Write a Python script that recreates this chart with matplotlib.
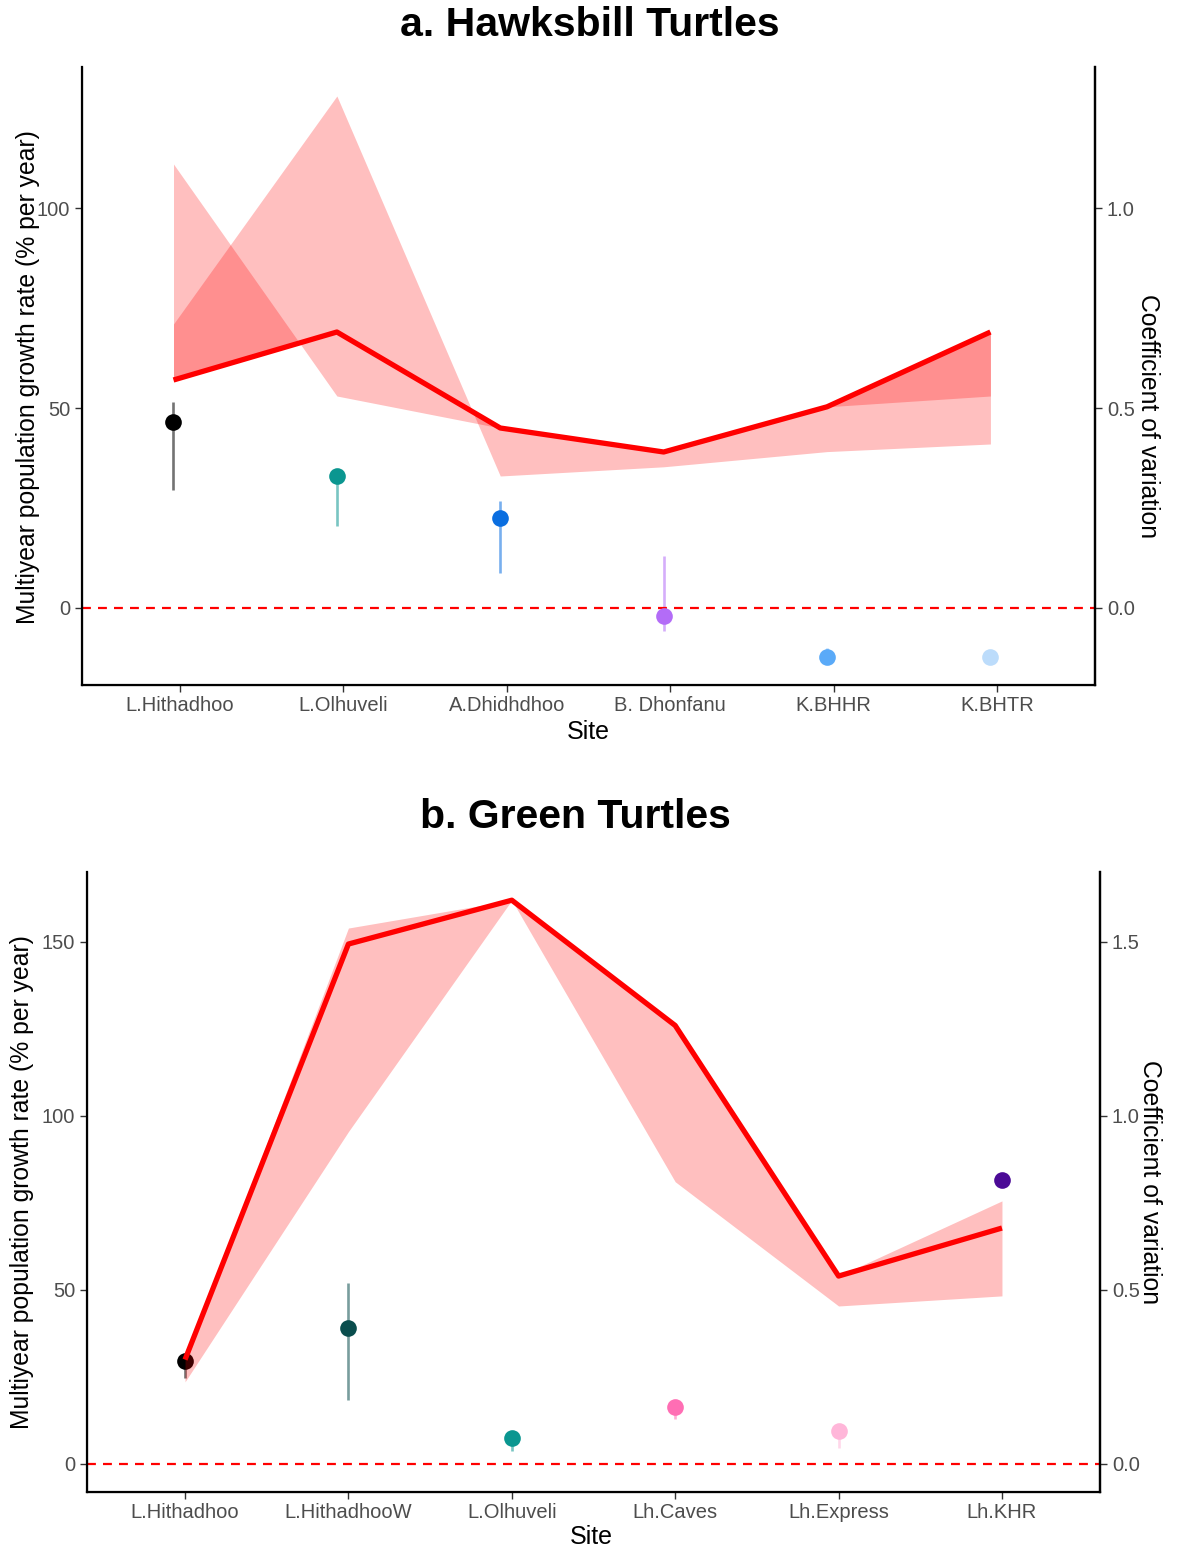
import matplotlib
matplotlib.use("Agg")
import matplotlib.pyplot as plt
import numpy as np

plt.rcParams['font.family'] = ['Liberation Sans', 'DejaVu Sans']

# ---------------- data: a. Hawksbill ----------------
sites_a = ["L.Hithadhoo", "L.Olhuveli", "A.Dhidhdhoo", "B. Dhonfanu", "K.BHHR", "K.BHTR"]
growth_a = [46.5, 33.0, 22.5, -2.0, -12.3, -12.3]
growth_lo_a = [29.5, 20.5, 8.7, -5.8, -12.8, -12.3]
growth_hi_a = [51.5, 34.7, 26.7, 13.0, -10.0, -12.3]
colors_a = ["#000000", "#0b9690", "#0a6ee0", "#b36cf7", "#5aaaf8", "#bcdcfb"]
cv_a = [0.57, 0.69, 0.45, 0.39, 0.503, 0.69]
cv_band1_a = [0.71, 1.28, 0.33, 0.353, 0.391, 0.41]
cv_band2_a = [1.11, 0.53, 0.45, 0.39, 0.503, 0.53]

# ---------------- data: b. Green ----------------
sites_b = ["L.Hithadhoo", "L.HithadhooW", "L.Olhuveli", "Lh.Caves", "Lh.Express", "Lh.KHR"]
growth_b = [29.6, 39.0, 7.5, 16.5, 9.5, 81.6]
growth_lo_b = [24.7, 18.5, 3.6, 12.8, 4.5, 81.6]
growth_hi_b = [31.3, 52.0, 8.5, 17.0, 10.0, 81.6]
colors_b = ["#000000", "#0a4d4d", "#0a9690", "#ff6eb4", "#ffb6d9", "#4b0a96"]
cv_b = [0.30, 1.494, 1.62, 1.26, 0.54, 0.678]
cv_band1_b = [0.236, 0.955, 1.62, 0.811, 0.454, 0.483]
cv_band2_b = [0.30, 1.54, 1.62, 1.26, 0.54, 0.756]

W, H = 1181, 1550
fig = plt.figure(figsize=(W / 100, H / 100), dpi=100)

TICK_GREY = "#4d4d4d"


def panel(rect, sites, growth, glo, ghi, colors, cv, b1, b2, ylim, cv_ticks, shift):
    ax = fig.add_axes(rect)
    n = len(sites)
    xt = np.arange(n)
    xd = xt + shift
    ax.set_xlim(-0.6, n - 1 + 0.6)
    ax.set_ylim(*ylim)
    # growth points with error bars
    for i in range(n):
        ax.plot([xd[i], xd[i]], [glo[i], ghi[i]], color=colors[i], alpha=0.55,
                lw=1.9, solid_capstyle='butt', zorder=2)
        ax.plot(xd[i], growth[i], 'o', color=colors[i], ms=12, mec='none', zorder=3)
    ax.axhline(0, color="#ff0000", ls=(0, (4, 3.2)), lw=1.6, zorder=2)
    # CV ribbons and line (scaled x100 to share the left axis)
    cvv = np.array(cv) * 100
    ax.fill_between(xd, cvv, np.array(b1) * 100, color="#ff0000", alpha=0.25, lw=0, zorder=4)
    ax.fill_between(xd, cvv, np.array(b2) * 100, color="#ff0000", alpha=0.25, lw=0, zorder=4)
    ax.plot(xd, cvv, color="#ff0000", lw=3.8, zorder=5, solid_capstyle='butt')

    ax.set_xticks(xt)
    ax.set_xticklabels(sites)
    ax.set_yticks([0, 50, 100, 150] if ylim[1] > 150 else [0, 50, 100])
    ax.tick_params(axis='both', colors="#333333", labelcolor=TICK_GREY, labelsize=14.5,
                   length=5, width=1.0, direction='out')
    ax.tick_params(axis='x', pad=3)
    ax.spines['top'].set_visible(False)
    for s in ['left', 'bottom', 'right']:
        ax.spines[s].set_linewidth(1.6)
        ax.spines[s].set_color("black")

    ax2 = ax.twinx()
    ax2.set_ylim(ylim[0] / 100, ylim[1] / 100)
    ax2.set_yticks(cv_ticks)
    ax2.set_yticklabels([f"{v:.1f}" for v in cv_ticks])
    ax2.tick_params(axis='y', colors="#333333", labelcolor=TICK_GREY, labelsize=14.5,
                    length=5, width=1.0, direction='out')
    ax2.spines['top'].set_visible(False)
    ax2.spines['right'].set_linewidth(1.6)
    return ax


panel([82 / W, 1 - 685 / H, (1095 - 82) / W, (685 - 67) / H],
      sites_a, growth_a, growth_lo_a, growth_hi_a, colors_a,
      cv_a, cv_band1_a, cv_band2_a, (-19.25, 135.25), [0.0, 0.5, 1.0], -0.04)

panel([87 / W, 1 - 1492 / H, (1100 - 87) / W, (1492 - 872) / H],
      sites_b, growth_b, growth_lo_b, growth_hi_b, colors_b,
      cv_b, cv_band1_b, cv_band2_b, (-8.05, 170.1), [0.0, 0.5, 1.0, 1.5], 0.0)

# titles and axis labels
fig.text(590 / W, 1 - 25 / H, "a. Hawksbill Turtles", ha='center', va='center',
         fontsize=29.5, fontweight='bold')
fig.text(575 / W, 1 - 817 / H, "b. Green Turtles", ha='center', va='center',
         fontsize=29.5, fontweight='bold')
fig.text(588 / W, 1 - 732 / H, "Site", ha='center', va='center', fontsize=18)
fig.text(591 / W, 1 - 1537 / H, "Site", ha='center', va='center', fontsize=18)
ylab = "Multiyear population growth rate (% per year)"
fig.text(28 / W, 1 - 377 / H, ylab, ha='center', va='center', rotation=90, fontsize=17.8)
fig.text(22 / W, 1 - 1182 / H, ylab, ha='center', va='center', rotation=90, fontsize=17.8)
fig.text(1148 / W, 1 - 416 / H, "Coefficient of variation", ha='center', va='center',
         rotation=-90, fontsize=17.8)
fig.text(1150 / W, 1 - 1182 / H, "Coefficient of variation", ha='center', va='center',
         rotation=-90, fontsize=17.8)

fig.savefig("out.png", dpi=100, facecolor="white")
